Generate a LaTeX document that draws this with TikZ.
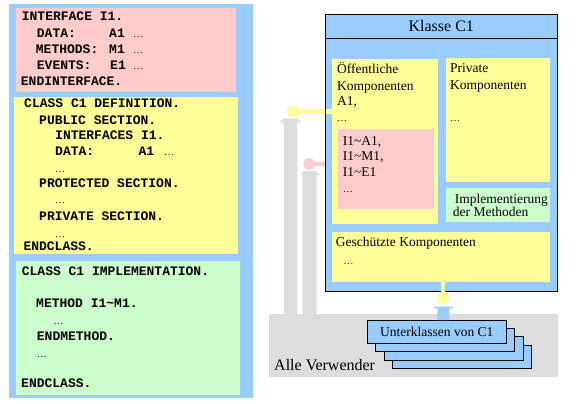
\documentclass[tikz,border=0pt]{standalone}
\usepackage{fontspec}
\setmainfont{Liberation Serif}
\newfontfamily\codefam{Liberation Mono}
\usetikzlibrary{calc}
\definecolor{blueA}{RGB}{153,204,255}
\definecolor{pinkA}{RGB}{255,204,204}
\definecolor{yellowA}{RGB}{255,255,153}
\definecolor{greenA}{RGB}{204,255,204}
\definecolor{grayA}{RGB}{221,221,221}
\newcommand\codefont{\codefam\bfseries\fontsize{13}{13}\selectfont}
\newcommand\txtfont{\rmfamily\fontsize{13.5}{13.5}\selectfont}
\tikzset{
  code/.style={anchor=base west, inner sep=0pt, font=\codefont},
  txt/.style={anchor=base west, inner sep=0pt, font=\txtfont},
  dots/.style={anchor=base west, inner sep=0pt, font=\rmfamily\fontsize{10}{10}\selectfont},
  area/.style={anchor=north west, inner sep=0pt, outer sep=0pt},
  subbox/.style={area, fill=blueA, draw=black, line width=1pt, minimum width=139, minimum height=23.3},
  knob/.style={circle, inner sep=0pt, minimum size=11.5},
  stem/.style={line width=4.5pt}
}
\begin{document}
\begin{tikzpicture}[x=1pt,y=-1pt]
\useasboundingbox (0,0) rectangle (578,404);
% ---------- left panel ----------
\node[area, fill=blueA, minimum width=244, minimum height=394] (panel) at (9,4) {};
\node[area, fill=pinkA, minimum width=220, minimum height=84] (intf) at (16,8) {};
\node[area, fill=yellowA, minimum width=224, minimum height=157] (cdef) at (14,97) {};
\node[area, fill=greenA, minimum width=224, minimum height=134] (cimp) at (16,261) {};
% interface
\node[code] (i1) at (21.7,21) {INTERFACE I1.};
\node[code] (i2) at (36.7,37.7) {DATA:};
\node[code] (i2b) at (109,37.7) {A1};
\node[dots] (i2c) at (133,37.7) {\ldots};
\node[code] (i3) at (35.7,53.7) {METHODS:};
\node[code] (i3b) at (109,53.7) {M1};
\node[dots] (i3c) at (133,53.7) {\ldots};
\node[code] (i4) at (36.7,69.3) {EVENTS:};
\node[code] (i4b) at (110,69.3) {E1};
\node[dots] (i4c) at (133,69.3) {\ldots};
\node[code] (i5) at (20.7,85.7) {ENDINTERFACE.};
% class definition
\node[code] (d1) at (24,107.7) {CLASS C1 DEFINITION.};
\node[code] (d2) at (39,124) {PUBLIC SECTION.};
\node[code] (d3) at (55,139.3) {INTERFACES I1.};
\node[code] (d4) at (55,155.7) {DATA:};
\node[code] (d4b) at (138.3,155.7) {A1};
\node[dots] (d4c) at (164,155.7) {\ldots};
\node[dots] (d5) at (55,172.5) {\ldots};
\node[code] (d6) at (39,187.7) {PROTECTED SECTION.};
\node[dots] (d7) at (55,203.5) {\ldots};
\node[code] (d8) at (39,220.7) {PRIVATE SECTION.};
\node[dots] (d9) at (55,237) {\ldots};
\node[code] (d10) at (23.3,250.7) {ENDCLASS.};
% class implementation
\node[code] (m1) at (21.7,275) {CLASS C1 IMPLEMENTATION.};
\node[code] (m2) at (36,307) {METHOD I1\char`\~M1.};
\node[dots] (m3) at (53.3,324) {\ldots};
\node[code] (m4) at (36.7,340) {ENDMETHOD.};
\node[dots] (m5) at (36.7,357) {\ldots};
\node[code] (m6) at (21,387.7) {ENDCLASS.};
% ---------- right side ----------
\node[area, fill=grayA, minimum width=288.7, minimum height=62.7] (users) at (269,314) {};
\fill[grayA] (284,314) -- (284,122.5) -- (280,122.5) -- (283.5,118.3) -- (297.5,118.3) -- (301.3,122.5) -- (297.3,122.5) -- (297.3,314) -- cycle;
\fill[grayA] (302.3,314) -- (302.3,175) -- (300.7,175) -- (303,171) -- (316,171) -- (320.7,175) -- (316.7,175) -- (316.7,314) -- cycle;
\node[anchor=base west, inner sep=0pt, font=\rmfamily\fontsize{16}{16}\selectfont] (usertxt) at (274,370.7) {Alle Verwender};
% class box
\node[area, fill=blueA, minimum width=232, minimum height=276.7] (klasse) at (325.3,14.3) {};
\node[area, fill=yellowA, minimum width=106, minimum height=164.7] (oeff) at (332,59) {};
\node[area, fill=pinkA, minimum width=96, minimum height=80] (ifc) at (338,129) {};
\node[area, fill=yellowA, minimum width=104.3, minimum height=124] (priv) at (445.7,58) {};
\node[area, fill=greenA, minimum width=104.3, minimum height=33.7] (impl) at (445.7,188) {};
\node[area, fill=yellowA, minimum width=218, minimum height=50.3] (gesch) at (332,231.7) {};
% knobs and connectors
\node[knob, fill=yellowA] (yk) at (292.3,111.7) {};
\node[knob, fill=pinkA] (pk) at (309,164) {};
\draw[stem, yellowA] (yk.center) -- (yk.center -| oeff.west);
\draw[stem, pinkA] (pk.center) -- (pk.center -| klasse.west);
\draw[line width=1pt] (klasse.north west) rectangle (klasse.south east);
\draw[line width=1pt] (klasse.north west) ++(0,24) coordinate (tl) -- (tl -| klasse.east);
\node[anchor=base, inner sep=0pt, font=\rmfamily\fontsize{16}{16}\selectfont] (ktitle) at (441.3,31.7) {Klasse C1};
% texts in class box
\node[txt] (o1) at (337,73.3) {Öffentliche};
\node[txt] (o2) at (337,90) {Komponenten};
\node[txt] (o3) at (337,105.7) {A1,};
\node[dots] (o4) at (337,121) {\ldots};
\node[txt] (p1) at (342.7,145) {I1\char`\~A1,};
\node[txt] (p2) at (342.7,160.7) {I1\char`\~M1,};
\node[txt] (p3) at (342.7,176.7) {I1\char`\~E1};
\node[dots] (p4) at (342.7,192) {\ldots};
\node[txt] (r1) at (450,72.7) {Private};
\node[txt] (r2) at (450,89) {Komponenten};
\node[dots] (r3) at (450,121) {\ldots};
\node[txt] (im1) at (454.7,203.3) {Implementierung};
\node[txt] (im2) at (452.7,216.5) {der Methoden};
\node[txt] (g1) at (335.7,246.7) {Geschützte Komponenten};
\node[dots] (g2) at (343.3,264) {\ldots};
% subclasses
\node[subbox] (s4) at (392.8,345.3) {};
\node[subbox] (s3) at (384.3,336.9) {};
\node[subbox] (s2) at (375.8,328.5) {};
\node[subbox] (s1) at (367.3,320) {};
\node[txt] (s1t) at (380,336.7) {Unterklassen von C1};
\node[knob, fill=yellowA] (bk) at (443,298.5) {};
\draw[line width=4pt, yellowA] (gesch.south -| bk) -- (bk.center);
\fill[blueA] (s1.north -| 437.3,0) -- (437.3,308.3) -- (433.3,308.3) -- (434.5,306.7) -- (452,306.7) -- (453.3,308.3) -- (449.3,308.3) -- (449.3,320) -- cycle;
\end{tikzpicture}
\end{document}
